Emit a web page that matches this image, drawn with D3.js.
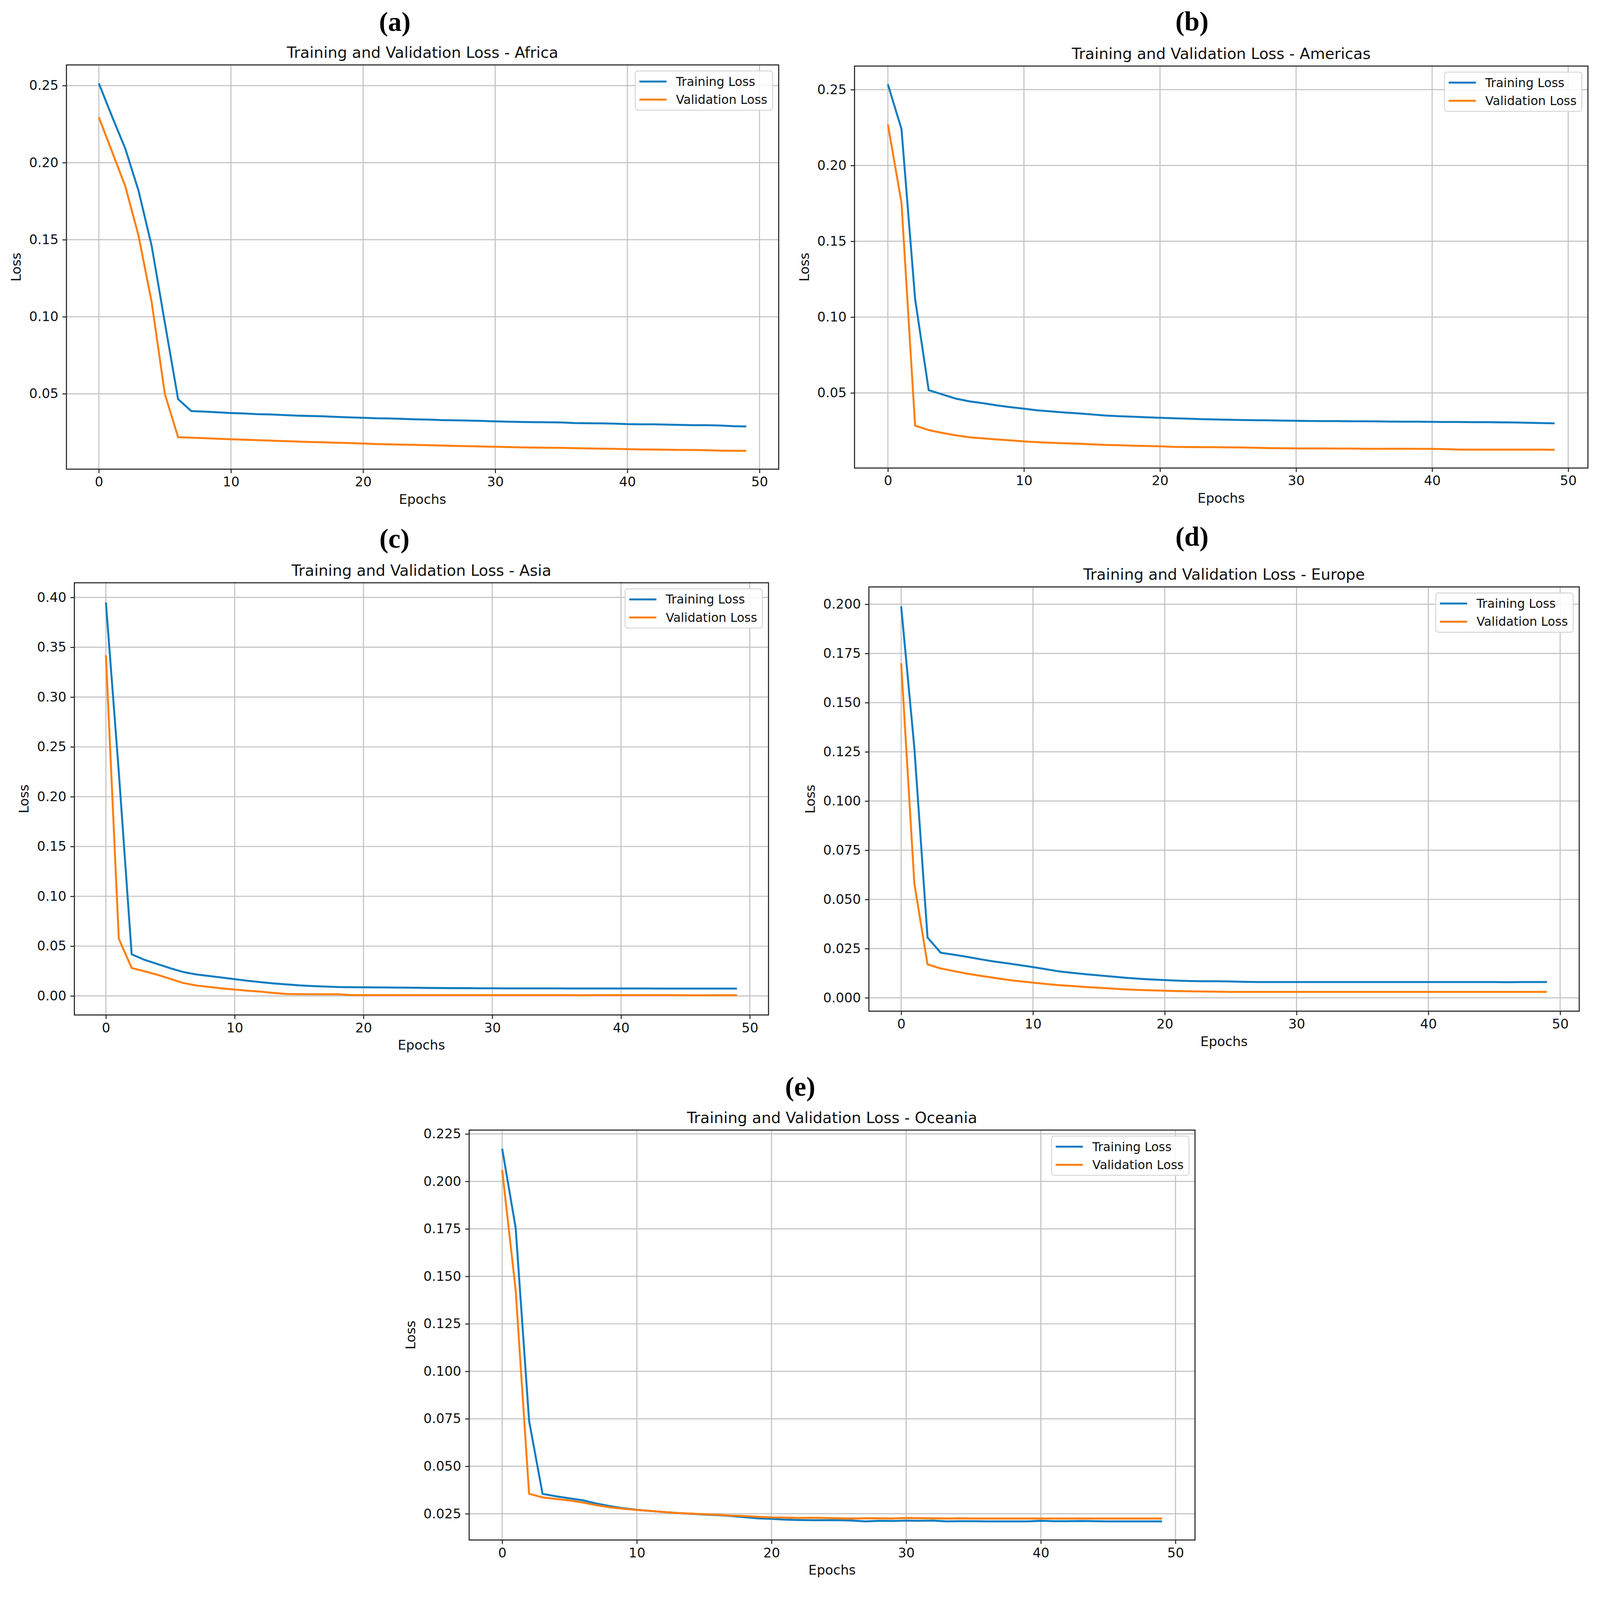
<!DOCTYPE html>
<html><head><meta charset="utf-8">
<script src="https://cdn.jsdelivr.net/npm/d3@7"></script>
<style>html,body{margin:0;padding:0;background:#fff;overflow:hidden}#chart{display:block;width:100vw;height:100vh}</style>
</head><body>
<svg id="chart" viewBox="0 0 4239 4195" preserveAspectRatio="xMinYMin meet" xmlns="http://www.w3.org/2000/svg"></svg>
<script>
// ---------------- DATA ----------------
const regions = ["Africa", "Americas", "Asia", "Europe", "Oceania"];
const panelLetters = ["(a)", "(b)", "(c)", "(d)", "(e)"];
const seriesNames = ["Training Loss", "Validation Loss"];
const epochs = [0,1,2,3,4,5,6,7,8,9,10,11,12,13,14,15,16,17,18,19,20,21,22,23,24,25,26,27,28,29,30,31,32,33,34,35,36,37,38,39,40,41,42,43,44,45,46,47,48,49];
const xTicks = [0, 10, 20, 30, 40, 50];

const africaTrain = [0.2515,0.2300,0.2092,0.1820,0.1460,0.0960,0.0465,0.0388,0.0384,0.0380,0.0375,0.0372,0.0368,0.0366,0.0362,0.0358,0.0356,0.0354,0.0350,0.0347,0.0344,0.0341,0.0340,0.0337,0.0334,0.0332,0.0329,0.0328,0.0326,0.0324,0.0321,0.0319,0.0317,0.0316,0.0315,0.0314,0.0310,0.0309,0.0308,0.0306,0.0303,0.0302,0.0302,0.0300,0.0298,0.0296,0.0296,0.0294,0.0290,0.0288];
const africaVal   = [0.2295,0.2072,0.1848,0.1528,0.1095,0.0498,0.0218,0.0215,0.0212,0.0208,0.0205,0.0202,0.0199,0.0196,0.0193,0.0190,0.0187,0.0185,0.0182,0.0180,0.0177,0.0174,0.0172,0.0170,0.0168,0.0166,0.0164,0.0162,0.0160,0.0158,0.0156,0.0154,0.0152,0.0151,0.0150,0.0149,0.0147,0.0145,0.0144,0.0143,0.0141,0.0139,0.0138,0.0137,0.0136,0.0135,0.0134,0.0131,0.0130,0.0130];

const americasTrain = [0.2535,0.2240,0.1120,0.0518,0.0490,0.0462,0.0444,0.0432,0.0418,0.0406,0.0396,0.0385,0.0378,0.0371,0.0365,0.0358,0.0351,0.0346,0.0343,0.0339,0.0336,0.0333,0.0330,0.0327,0.0325,0.0323,0.0321,0.0320,0.0319,0.0317,0.0316,0.0315,0.0314,0.0314,0.0313,0.0313,0.0312,0.0311,0.0310,0.0310,0.0309,0.0308,0.0308,0.0307,0.0307,0.0306,0.0305,0.0303,0.0301,0.0299];
const americasVal   = [0.2271,0.1754,0.0284,0.0255,0.0236,0.0220,0.0207,0.0200,0.0193,0.0187,0.0180,0.0175,0.0171,0.0168,0.0165,0.0161,0.0157,0.0155,0.0152,0.0150,0.0148,0.0144,0.0143,0.0142,0.0142,0.0141,0.0140,0.0138,0.0136,0.0135,0.0134,0.0134,0.0134,0.0133,0.0133,0.0132,0.0131,0.0132,0.0132,0.0131,0.0131,0.0129,0.0126,0.0126,0.0126,0.0126,0.0126,0.0126,0.0126,0.0125];

const asiaTrain = [0.3950,0.2250,0.0418,0.0362,0.0320,0.0278,0.0240,0.0216,0.0200,0.0184,0.0168,0.0152,0.0138,0.0126,0.0116,0.0106,0.0099,0.0094,0.0089,0.0087,0.0086,0.0085,0.0084,0.0083,0.0082,0.0080,0.0079,0.0078,0.0078,0.0077,0.0077,0.0076,0.0076,0.0076,0.0076,0.0076,0.0075,0.0075,0.0075,0.0075,0.0075,0.0075,0.0075,0.0074,0.0074,0.0074,0.0074,0.0074,0.0074,0.0074];
const asiaVal   = [0.3420,0.0575,0.0280,0.0247,0.0212,0.0171,0.0130,0.0105,0.0090,0.0076,0.0064,0.0052,0.0043,0.0030,0.0020,0.0018,0.0017,0.0017,0.0017,0.0009,0.0008,0.0008,0.0008,0.0008,0.0008,0.0008,0.0008,0.0008,0.0008,0.0008,0.0008,0.0008,0.0008,0.0008,0.0008,0.0008,0.0008,0.0007,0.0008,0.0008,0.0008,0.0008,0.0008,0.0008,0.0008,0.0007,0.0006,0.0007,0.0007,0.0007];

const europeTrain = [0.1990,0.1270,0.0306,0.0229,0.0219,0.0208,0.0196,0.0185,0.0176,0.0166,0.0156,0.0145,0.0134,0.0127,0.0120,0.0114,0.0108,0.0102,0.0097,0.0093,0.0090,0.0087,0.0085,0.0084,0.0084,0.0083,0.0081,0.0080,0.0080,0.0080,0.0080,0.0080,0.0080,0.0080,0.0080,0.0080,0.0080,0.0080,0.0080,0.0080,0.0080,0.0080,0.0080,0.0080,0.0080,0.0080,0.0079,0.0080,0.0080,0.0080];
const europeVal   = [0.1700,0.0580,0.0170,0.0149,0.0136,0.0123,0.0112,0.0102,0.0092,0.0084,0.0077,0.0070,0.0064,0.0060,0.0055,0.0051,0.0047,0.0043,0.0040,0.0038,0.0036,0.0034,0.0033,0.0032,0.0031,0.0030,0.0030,0.0030,0.0030,0.0030,0.0030,0.0030,0.0030,0.0030,0.0030,0.0030,0.0030,0.0030,0.0030,0.0030,0.0030,0.0030,0.0030,0.0030,0.0030,0.0030,0.0030,0.0030,0.0030,0.0030];

const oceaniaTrain = [0.2172,0.1757,0.0739,0.0355,0.0342,0.0331,0.0321,0.0304,0.0290,0.0279,0.0271,0.0265,0.0259,0.0254,0.0250,0.0246,0.0243,0.0238,0.0232,0.0226,0.0223,0.0219,0.0217,0.0216,0.0216,0.0216,0.0214,0.0210,0.0213,0.0212,0.0214,0.0213,0.0214,0.0210,0.0211,0.0211,0.0210,0.0210,0.0210,0.0210,0.0213,0.0211,0.0211,0.0212,0.0211,0.0210,0.0210,0.0210,0.0210,0.0210];
const oceaniaVal   = [0.2060,0.1430,0.0355,0.0336,0.0328,0.0320,0.0309,0.0295,0.0284,0.0276,0.0270,0.0265,0.0259,0.0254,0.0251,0.0248,0.0245,0.0240,0.0238,0.0234,0.0231,0.0230,0.0228,0.0229,0.0228,0.0226,0.0225,0.0226,0.0226,0.0225,0.0228,0.0227,0.0226,0.0225,0.0226,0.0225,0.0225,0.0225,0.0225,0.0225,0.0225,0.0225,0.0225,0.0225,0.0225,0.0225,0.0225,0.0225,0.0225,0.0225];

const yTicksAfrica   = [0.05, 0.10, 0.15, 0.20, 0.25];
const yTicksAmericas = [0.05, 0.10, 0.15, 0.20, 0.25];
const yTicksAsia     = [0.00, 0.05, 0.10, 0.15, 0.20, 0.25, 0.30, 0.35, 0.40];
const yTicksEurope   = [0.000, 0.025, 0.050, 0.075, 0.100, 0.125, 0.150, 0.175, 0.200];
const yTicksOceania  = [0.025, 0.050, 0.075, 0.100, 0.125, 0.150, 0.175, 0.200, 0.225];
const yTickFormats   = [".2f", ".2f", ".2f", ".3f", ".3f"];

const trainSeries = [africaTrain, americasTrain, asiaTrain, europeTrain, oceaniaTrain];
const valSeries   = [africaVal, americasVal, asiaVal, europeVal, oceaniaVal];
const yTickSets   = [yTicksAfrica, yTicksAmericas, yTicksAsia, yTicksEurope, yTicksOceania];

// ---------------- LAYOUT / STYLE ----------------
const layout = [
  {left: 176,  top: 172,  right: 2063, bottom: 1243, letterX: 1046, letterY: 82},
  {left: 2264, top: 175,  right: 4207, bottom: 1240, letterX: 3158, letterY: 81},
  {left: 197,  top: 1544, right: 2036, bottom: 2689, letterX: 1045, letterY: 1451},
  {left: 2302, top: 1555, right: 4184, bottom: 2679, letterX: 3158, letterY: 1446},
  {left: 1243, top: 2994, right: 3166, bottom: 4080, letterX: 2120, letterY: 2903}
];
const colors = ["#0f7cbf", "#ff7f0e"];
const FONT = "'DejaVu Sans', 'Liberation Sans', sans-serif";
const TICK_FS = 35, TITLE_FS = 40.5, LABEL_FS = 35, LEGEND_FS = 32.5;
const TICK_LEN = 10.5, TICK_PAD = 10.5;

const svg = d3.select("#chart");
svg.append("rect").attr("width", 4239).attr("height", 4195).attr("fill", "#fff");

regions.forEach((region, k) => {
  const L = layout[k];
  const train = trainSeries[k], val = valSeries[k];
  const g = svg.append("g");

  const xe = d3.extent(epochs), xm = (xe[1] - xe[0]) * 0.05;
  const all = train.concat(val);
  const mn = d3.min(all), mx = d3.max(all), ym = (mx - mn) * 0.05;
  const x = d3.scaleLinear().domain([xe[0] - xm, xe[1] + xm]).range([L.left, L.right]);
  const y = d3.scaleLinear().domain([mn - ym, mx + ym]).range([L.bottom, L.top]);
  const yTicks = yTickSets[k];

  // grid
  const grid = g.append("g").attr("stroke", "#c2c2c2").attr("stroke-width", 2.8);
  grid.selectAll("line.gx").data(xTicks).join("line").attr("class", "gx")
    .attr("x1", d => x(d)).attr("x2", d => x(d)).attr("y1", L.top).attr("y2", L.bottom);
  grid.selectAll("line.gy").data(yTicks).join("line").attr("class", "gy")
    .attr("x1", L.left).attr("x2", L.right).attr("y1", d => y(d)).attr("y2", d => y(d));

  // lines
  const line = d3.line().x((d, i) => x(epochs[i])).y(d => y(d));
  [train, val].forEach((s, j) => {
    g.append("path").datum(s).attr("d", line).attr("fill", "none")
      .attr("stroke", colors[j]).attr("stroke-width", 5.2)
      .attr("stroke-linejoin", "round").attr("stroke-linecap", "butt");
  });

  // axes
  const xAxis = d3.axisBottom(x).tickValues(xTicks).tickFormat(d3.format("d"))
    .tickSize(TICK_LEN).tickPadding(TICK_PAD).tickSizeOuter(0);
  const yAxis = d3.axisLeft(y).tickValues(yTicks).tickFormat(d3.format(yTickFormats[k]))
    .tickSize(TICK_LEN).tickPadding(TICK_PAD).tickSizeOuter(0);
  const gx = g.append("g").attr("transform", `translate(0,${L.bottom})`).call(xAxis);
  const gy = g.append("g").attr("transform", `translate(${L.left},0)`).call(yAxis);
  [gx, gy].forEach(a => {
    a.select(".domain").remove();
    a.selectAll(".tick line").attr("stroke", "#222").attr("stroke-width", 2.6);
    a.selectAll(".tick text").attr("fill", "#111").style("font-family", FONT).style("font-size", TICK_FS + "px");
  });

  // spines
  g.append("rect").attr("x", L.left).attr("y", L.top)
    .attr("width", L.right - L.left).attr("height", L.bottom - L.top)
    .attr("fill", "none").attr("stroke", "#222").attr("stroke-width", 2.8);

  // y label position from tick label extent
  let minLeft = L.left;
  gy.selectAll(".tick text").each(function() {
    const b = this.getBBox();
    minLeft = Math.min(minLeft, L.left + b.x);
  });
  const cy = (L.top + L.bottom) / 2;
  g.append("text").text("Loss")
    .attr("transform", `translate(${minLeft - 34},${cy}) rotate(-90)`)
    .attr("text-anchor", "middle").attr("dominant-baseline", "central")
    .attr("fill", "#111").style("font-family", FONT).style("font-size", LABEL_FS + "px");

  const cx = (L.left + L.right) / 2;
  g.append("text").text("Epochs").attr("x", cx).attr("y", L.bottom + 92)
    .attr("text-anchor", "middle").attr("fill", "#111")
    .style("font-family", FONT).style("font-size", LABEL_FS + "px");

  // title
  g.append("text").text("Training and Validation Loss - " + region)
    .attr("x", cx).attr("y", L.top - 19).attr("text-anchor", "middle").attr("fill", "#111")
    .style("font-family", FONT).style("font-size", TITLE_FS + "px");

  // panel letter
  g.append("text").text(panelLetters[k]).attr("x", L.letterX).attr("y", L.letterY)
    .attr("text-anchor", "middle").attr("fill", "#000")
    .style("font-family", "'Liberation Serif', 'DejaVu Serif', serif")
    .style("font-weight", "bold").style("font-size", "72px");

  // legend
  const leg = g.append("g");
  const texts = seriesNames.map((n, j) => leg.append("text").text(n)
    .attr("fill", "#111").style("font-family", FONT).style("font-size", LEGEND_FS + "px")
    .attr("dominant-baseline", "central"));
  let tw = 0;
  texts.forEach(t => { tw = Math.max(tw, t.node().getComputedTextLength()); });
  const bw = 108 + tw + 14, bh = 104;
  const bx = L.right - 16 - bw, by = L.top + 16;
  leg.insert("rect", ":first-child").attr("x", bx).attr("y", by).attr("width", bw).attr("height", bh)
    .attr("rx", 7).attr("fill", "#fff").attr("fill-opacity", 0.85)
    .attr("stroke", "#d4d4d4").attr("stroke-width", 2.4);
  seriesNames.forEach((n, j) => {
    const ry = by + 28 + j * 48;
    leg.append("line").attr("x1", bx + 11).attr("x2", bx + 83).attr("y1", ry).attr("y2", ry)
      .attr("stroke", colors[j]).attr("stroke-width", 5.2);
    texts[j].attr("x", bx + 108).attr("y", ry);
  });
});
</script>
</body></html>
